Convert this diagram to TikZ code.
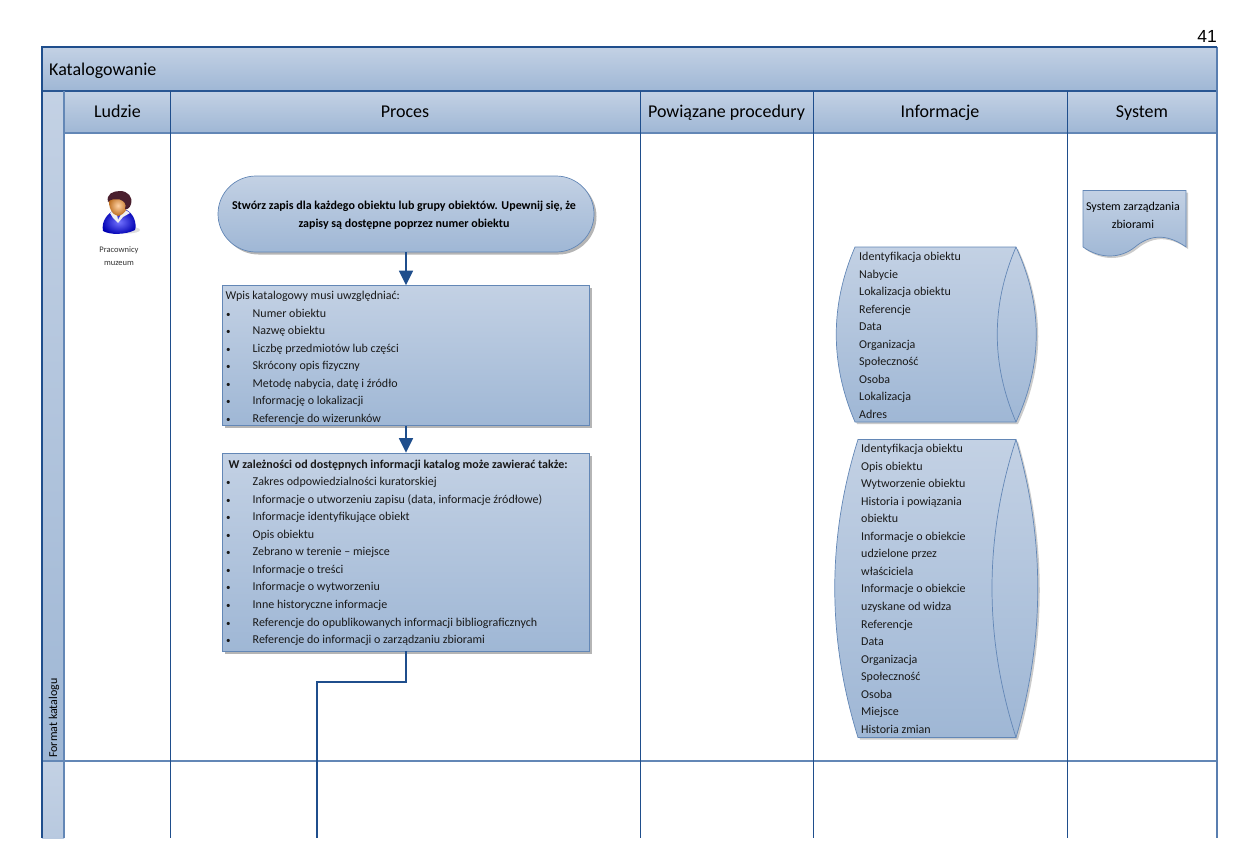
\documentclass[tikz,border=0pt]{standalone}
\usepackage{fontspec}
\setmainfont{Carlito}
\newfontfamily\arialf{Liberation Sans}
\usetikzlibrary{arrows.meta,shapes.misc,shadows}
\definecolor{edgeb}{HTML}{1F4E8C}
\definecolor{thinb}{HTML}{6387B6}
\definecolor{lt}{HTML}{C3D1E4}
\definecolor{dk}{HTML}{9FB7D5}
\definecolor{sh}{HTML}{B5B5B5}
\definecolor{hairc}{HTML}{4A1F2E}
\tikzset{
 x=1pt,y=-1pt,
 gradfill/.style={top color=lt,bottom color=dk,middle color=lt!50!dk,draw=thinb,line width=.7pt},
 softshadow/.style={drop shadow={shadow xshift=2.5pt,shadow yshift=-2.5pt,fill=sh,opacity=1}},
 lightshadow/.style={drop shadow={shadow xshift=2pt,shadow yshift=-2pt,fill=sh!70,opacity=1}},
 grid/.style={draw=edgeb,line width=1pt},
 connector/.style={draw=edgeb,line width=1.6pt},
 arrowed/.style={connector,-{Triangle[length=14.5pt,width=14pt]}},
 hdr/.style={font=\fontsize{18}{20}\selectfont,text=black,anchor=base,inner sep=0pt},
 boxtext/.style={font=\fontsize{12}{17.55}\selectfont,align=left,anchor=north west,inner sep=0pt,text=black!90},
 band/.style={top color=lt,bottom color=dk,middle color=lt!50!dk,draw=none}
}
\newcommand{\blist}[1]{\makebox[27pt][l]{\hspace*{0.5pt}{\fontsize{9}{9}\selectfont •}}#1}
\begin{document}
\begin{tikzpicture}
\useasboundingbox (0,0) rectangle (1253,848);
% headers and bands
\fill[band] (42,47) rectangle (1217,91);
\fill[band] (64,91) rectangle (1217,133);
\shade[top color=lt,bottom color=dk,draw=none] (42,91) rectangle (64,761);
\shade[top color=lt,bottom color=lt!70!dk] (42,761) rectangle (64,838);
% grid
\draw[thinb,line width=1.2pt] (64,133) -- (1217,133);
\draw[thinb,line width=1.3pt] (42,761) -- (1217,761);
\draw[edgeb!85!thinb,line width=1.1pt] (42,91) -- (1217,91);
\draw[thinb,line width=1.3pt] (64,91) -- (64,838);
\foreach \xx in {170.5,640,813,1067.5} \draw[grid] (\xx,91) -- (\xx,838);
\draw[thinb!85!edgeb,line width=1.3pt] (1217,47) -- (1217,838);
\draw[edgeb,line width=1.8pt] (42,838) -- (42,47) -- (1217,47);
% titles
\node[anchor=east,inner sep=0pt,font=\arialf\fontsize{17.5}{18}\selectfont] (page) at (1217,36) {41};
\node[anchor=base west,inner sep=0pt,font=\fontsize{18}{20}\selectfont] (title) at (49,76) {Katalogowanie};
\node[hdr] (h1) at (117.5,118) {Ludzie};
\node[hdr] (h2) at (405,118) {Proces};
\node[hdr] (h3) at (726.5,118) {Powiązane procedury};
\node[hdr] (h4) at (940,118) {Informacje};
\node[hdr] (h5) at (1142,118) {System};
\node[rotate=90,anchor=west,inner sep=0pt,font=\fontsize{12}{14}\selectfont] (sw) at (54,758) {Format katalogu};
% start node
\node[rounded rectangle,gradfill,softshadow,minimum width=376pt,minimum height=76pt,inner sep=0pt] (start) at (406,214) {};
\node[inner sep=0pt,align=center,font=\bfseries\fontsize{12}{17.55}\selectfont] (startt) at (404,215.5) {Stwórz zapis dla każdego obiektu lub grupy obiektów. Upewnij się, że\\zapisy są dostępne poprzez numer obiektu};
% box 1
\node[gradfill,softshadow,minimum width=367pt,minimum height=140pt,inner sep=0pt] (b1) at (406,355.5) {};
\node[boxtext] (b1t) at (225.5,291) {Wpis katalogowy musi uwzględniać:\\\blist{Numer obiektu}\\\blist{Nazwę obiektu}\\\blist{Liczbę przedmiotów lub części}\\\blist{Skrócony opis fizyczny}\\\blist{Metodę nabycia, datę i źródło}\\\blist{Informację o lokalizacji}\\\blist{Referencje do wizerunków}};
% box 2
\node[gradfill,softshadow,minimum width=367pt,minimum height=198pt,inner sep=0pt] (b2) at (406,552) {};
\node[boxtext] (b2t) at (225.5,459.5) {\hspace*{3pt}\textbf{W zależności od dostępnych informacji katalog może zawierać także:}\\\blist{Zakres odpowiedzialności kuratorskiej}\\\blist{Informacje o utworzeniu zapisu (data, informacje źródłowe)}\\\blist{Informacje identyfikujące obiekt}\\\blist{Opis obiektu}\\\blist{Zebrano w terenie – miejsce}\\\blist{Informacje o treści}\\\blist{Informacje o wytworzeniu}\\\blist{Inne historyczne informacje}\\\blist{Referencje do opublikowanych informacji bibliograficznych}\\\blist{Referencje do informacji o zarządzaniu zbiorami}};
% connectors
\coordinate (bend1) at (406,682);
\coordinate (bend2) at (317,682);
\coordinate (exit) at (317,838);
\draw[arrowed] (start.south) -- (b1.north);
\draw[arrowed] (b1.south) -- (b2.north);
\draw[connector,line width=1.3pt] (b2.south) -- (bend1) -- (bend2) -- (exit);
% cylinders
\draw[gradfill,lightshadow] (855,247) .. controls (830,305) and (830,364) .. (855,422) -- (1016,422) .. controls (1043,364) and (1043,305) .. (1016,247) -- cycle;
\draw[thinb,line width=.7pt] (1016,247) .. controls (991,305) and (991,364) .. (1016,422);
\node[boxtext] (c1) at (859,252) {Identyfikacja obiektu\\Nabycie\\Lokalizacja obiektu\\Referencje\\Data\\Organizacja\\Społeczność\\Osoba\\Lokalizacja\\Adres};
\draw[gradfill,lightshadow] (858,439.5) .. controls (827,538) and (827,638) .. (858,737.5) -- (1016,737.5) .. controls (1045,638) and (1045,538) .. (1016,439.5) -- cycle;
\draw[thinb,line width=.7pt] (1016,439.5) .. controls (984,538) and (984,638) .. (1016,737.5);
\node[boxtext] (c2) at (861,444) {Identyfikacja obiektu\\Opis obiektu\\Wytworzenie obiektu\\Historia i powiązania\\obiektu\\Informacje o obiekcie\\udzielone przez\\właściciela\\Informacje o obiekcie\\uzyskane od widza\\Referencje\\Data\\Organizacja\\Społeczność\\Osoba\\Miejsce\\Historia zmian};
% document
\draw[gradfill,lightshadow] (1083,190.5) -- (1186,190.5) -- (1186,247) .. controls (1165,232) and (1148,236) .. (1135,247) .. controls (1120,259) and (1100,259) .. (1083,247) -- cycle;
\node[inner sep=0pt,align=center,font=\fontsize{12}{17.55}\selectfont] (sys) at (1133,215.5) {System zarządzania\\zbiorami};
% person
\fill[black!13] (127,230) ellipse (13 and 3.5);
\shade[inner color=blue!55!white,outer color=blue!70!black] (103,231) .. controls (101,221) and (108,212) .. (117,209) -- (124,209) .. controls (134,212) and (137,224) .. (135,230) .. controls (125,235) and (110,235) .. (103,231) -- cycle;
\fill[black!6] (110,213) -- (116,209) -- (118,220) -- (124,209) -- (130,213) -- (123,217) -- (118,223) -- (113,218) -- cycle;
\shade[inner color=orange!35!white,outer color=orange!70!black!90] (109,198) .. controls (108,207) and (112,215) .. (118,216) .. controls (124,215) and (128,209) .. (128,203) -- (128,195) -- (112,195) -- cycle;
\fill[hairc] (108,202) .. controls (106,194) and (113,191) .. (120,191) .. controls (128,191) and (133,197) .. (131,204) .. controls (130,208) and (127,210) .. (125,209) .. controls (127,204) and (124,201) .. (120,199.5) .. controls (115,199) and (110,199) .. (108,202) -- cycle;
\node[inner sep=0pt,align=center,font=\fontsize{8.5}{13}\selectfont,text=black!80] (people) at (119,256.5) {Pracownicy\\muzeum};
\end{tikzpicture}
\end{document}
